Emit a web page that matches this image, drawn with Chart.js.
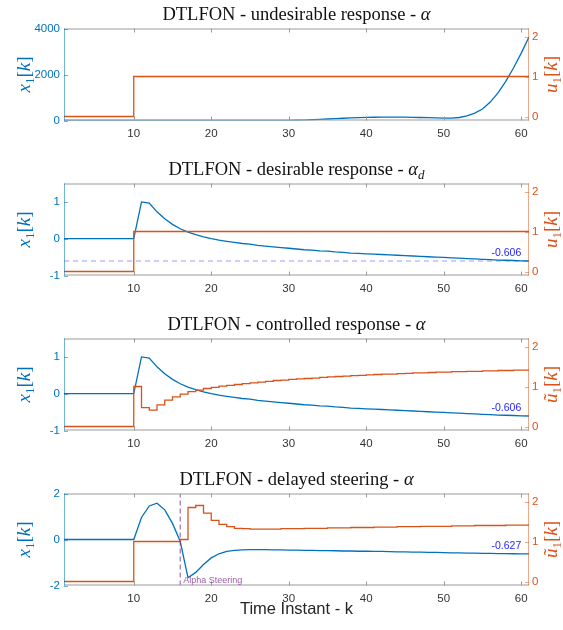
<!doctype html>
<html lang="en">
<head>
  <meta charset="utf-8">
  <title>DTLFON responses</title>
  <script src="https://cdn.jsdelivr.net/npm/chart.js@4.4.1/dist/chart.umd.min.js"></script>
  <style>
    html, body { margin: 0; padding: 0; background: #fff; }
    #wrap { position: relative; width: 563px; height: 630px; }
    #wrap canvas { position: absolute; left: 0; }
  </style>
</head>
<body>
  <div id="wrap">
    <canvas id="c1" width="563" height="155" style="top:0px"></canvas>
    <canvas id="c2" width="563" height="155" style="top:155px"></canvas>
    <canvas id="c3" width="563" height="155" style="top:310px"></canvas>
    <canvas id="c4" width="563" height="165" style="top:465px"></canvas>
  </div>

  <script type="text/javascript">

    // time instants k
    const k = [1, 2, 3, 4, 5, 6, 7, 8, 9, 10, 11, 12, 13, 14, 15, 16, 17, 18, 19, 20,
      21, 22, 23, 24, 25, 26, 27, 28, 29, 30, 31, 32, 33, 34, 35, 36, 37, 38, 39, 40,
      41, 42, 43, 44, 45, 46, 47, 48, 49, 50, 51, 52, 53, 54, 55, 56, 57, 58, 59, 60, 61];

    const xTicks = [10, 20, 30, 40, 50, 60];

    // panel 1 - undesirable response
    const x1Undesired = [0, 0, 0, 0, 0, 0, 0, 0, 0, 0, 0, 0, 0, 0, 0, 0, 0, 0, 0, 0,
      0, 0, 0, 0, 0, 0, 0, 0, 2, 5, 10, 20, 33, 48, 65, 82, 98, 112, 124, 134,
      142, 147, 149, 148, 145, 139, 131, 121, 111, 104, 106, 130, 200, 320, 500, 800, 1200, 1700, 2280, 2930, 3630];

    // input u1[k] for panels 1 and 2
    const uStep = [0, 0, 0, 0, 0, 0, 0, 0, 0, 1, 1, 1, 1, 1, 1, 1, 1, 1, 1, 1,
      1, 1, 1, 1, 1, 1, 1, 1, 1, 1, 1, 1, 1, 1, 1, 1, 1, 1, 1, 1,
      1, 1, 1, 1, 1, 1, 1, 1, 1, 1, 1, 1, 1, 1, 1, 1, 1, 1, 1, 1, 1];

    // panels 2 and 3 - desirable / controlled response
    const x1Desired = [0, 0, 0, 0, 0, 0, 0, 0, 0, 0, 1.00, 0.97, 0.73, 0.54, 0.39, 0.27, 0.18, 0.11, 0.05, 0.00,
      -0.04, -0.07, -0.10, -0.13, -0.15, -0.18, -0.20, -0.22, -0.24, -0.26, -0.28, -0.30, -0.31, -0.33, -0.34, -0.36, -0.37, -0.39, -0.40, -0.41,
      -0.42, -0.43, -0.44, -0.45, -0.46, -0.47, -0.48, -0.49, -0.50, -0.51, -0.52, -0.53, -0.54, -0.55, -0.56, -0.57, -0.58, -0.585, -0.593, -0.60, -0.606];

    const finalDesired = -0.606;
    const dashK = [1, 61];
    const dashY = [finalDesired, finalDesired];

    // panel 3 - controlled input
    const uControlled = [0, 0, 0, 0, 0, 0, 0, 0, 0, 1.00, 0.47, 0.41, 0.54, 0.66, 0.74, 0.81, 0.87, 0.91, 0.95, 0.98,
      1.01, 1.03, 1.05, 1.07, 1.09, 1.11, 1.13, 1.15, 1.16, 1.18, 1.19, 1.20, 1.21, 1.23, 1.24, 1.25, 1.26, 1.27, 1.28, 1.29,
      1.30, 1.31, 1.31, 1.32, 1.33, 1.34, 1.34, 1.35, 1.36, 1.36, 1.37, 1.37, 1.38, 1.38, 1.39, 1.39, 1.40, 1.40, 1.41, 1.41, 1.42];

    // panel 4 - delayed steering
    const x1Delayed = [0, 0, 0, 0, 0, 0, 0, 0, 0, 0, 0.96, 1.46, 1.58, 1.29, 0.70, -0.09, -1.66, -1.43, -1.09, -0.80,
      -0.62, -0.52, -0.47, -0.45, -0.44, -0.44, -0.44, -0.45, -0.45, -0.46, -0.46, -0.47, -0.47, -0.48, -0.48, -0.49, -0.50, -0.50, -0.51, -0.51,
      -0.52, -0.52, -0.53, -0.54, -0.54, -0.55, -0.55, -0.56, -0.56, -0.57, -0.58, -0.58, -0.59, -0.59, -0.60, -0.60, -0.61, -0.615, -0.62, -0.623, -0.627];

    const uDelayed = [0, 0, 0, 0, 0, 0, 0, 0, 0, 1, 1, 1, 1, 1, 1, 1.05, 1.85, 1.90, 1.71, 1.53,
      1.43, 1.37, 1.33, 1.32, 1.31, 1.31, 1.31, 1.31, 1.32, 1.32, 1.32, 1.33, 1.33, 1.33, 1.34, 1.34, 1.34, 1.35, 1.35, 1.35,
      1.36, 1.36, 1.36, 1.37, 1.37, 1.37, 1.38, 1.38, 1.38, 1.38, 1.39, 1.39, 1.39, 1.40, 1.40, 1.40, 1.40, 1.41, 1.41, 1.41, 1.41];

    const steerK = [16, 16];
    const steerY = [-2, 2];

    const BLUE = '#0072BD';
    const ORANGE = '#D95319';
    const SERIF = '"Liberation Serif", "Times New Roman", serif';
    const SANS = '"Liberation Sans", Arial, Helvetica, sans-serif';

    const PLOT_TOP = 28.5, PLOT_H = 92, PLOT_LEFT = 64, PLOT_RIGHT = 529;

    const pts = (xs, ys) => xs.map((x, i) => ({ x: x, y: ys[i] }));

    function drawParts(ctx, parts, x, y) {
      let w = 0;
      parts.forEach(p => { ctx.font = p.font; w += ctx.measureText(p.t).width; });
      let cx = x - w / 2;
      parts.forEach(p => {
        ctx.font = p.font;
        ctx.fillText(p.t, cx, y + (p.dy || 0));
        cx += ctx.measureText(p.t).width;
      });
    }

    const titleFont = '18.5px ' + SERIF;
    const titleIt = 'italic 18.5px ' + SERIF;
    const labFont = '19px ' + SERIF;
    const labIt = 'italic 19px ' + SERIF;
    const subFont = '13px ' + SERIF;

    function axisLabel(sym) {
      return [{ t: sym, font: labIt }, { t: '1', font: subFont, dy: 4 },
        { t: '[', font: labFont }, { t: 'k', font: labIt }, { t: ']', font: labFont }];
    }

    // frame, inward ticks, math texts and notes
    const framePlugin = {
      id: 'frame',
      afterDatasetsDraw(chart, args, o) {
        const { ctx, chartArea: a, scales } = chart;
        ctx.save();
        ctx.lineWidth = 1;
        const T = 4;

        ctx.strokeStyle = '#9a9a9a';
        ctx.beginPath();
        ctx.moveTo(a.left, a.top + 0.5); ctx.lineTo(a.right, a.top + 0.5);
        ctx.moveTo(a.left, a.bottom - 0.5); ctx.lineTo(a.right, a.bottom - 0.5);
        scales.x.ticks.forEach(t => {
          const px = Math.round(scales.x.getPixelForValue(t.value)) + 0.5;
          ctx.moveTo(px, a.top); ctx.lineTo(px, a.top + T);
          ctx.moveTo(px, a.bottom); ctx.lineTo(px, a.bottom - T);
        });
        ctx.stroke();

        ctx.strokeStyle = 'rgba(0,114,189,0.55)';
        ctx.beginPath();
        ctx.moveTo(a.left + 0.5, a.top); ctx.lineTo(a.left + 0.5, a.bottom);
        scales.y.ticks.forEach(t => {
          const py = Math.round(scales.y.getPixelForValue(t.value)) + 0.5;
          ctx.moveTo(a.left, py); ctx.lineTo(a.left + T, py);
        });
        ctx.stroke();

        ctx.strokeStyle = 'rgba(217,83,25,0.5)';
        ctx.beginPath();
        ctx.moveTo(a.right - 0.5, a.top); ctx.lineTo(a.right - 0.5, a.bottom);
        scales.y2.ticks.forEach(t => {
          const py = Math.round(scales.y2.getPixelForValue(t.value)) + 0.5;
          ctx.moveTo(a.right, py); ctx.lineTo(a.right - T, py);
        });
        ctx.stroke();

        // title
        ctx.fillStyle = '#111';
        ctx.textBaseline = 'alphabetic';
        drawParts(ctx, o.title, (a.left + a.right) / 2, 19.5);

        // y labels, rotated
        const cy = (a.top + a.bottom) / 2;
        ctx.save();
        ctx.translate(30, cy); ctx.rotate(-Math.PI / 2);
        ctx.fillStyle = BLUE;
        drawParts(ctx, axisLabel('x'), 0, 0);
        ctx.restore();
        ctx.save();
        ctx.translate(557, cy); ctx.rotate(-Math.PI / 2);
        ctx.fillStyle = ORANGE;
        drawParts(ctx, axisLabel(o.uSym), 0, 0);
        ctx.restore();

        // notes
        (o.notes || []).forEach(n => {
          const sc = scales[n.axis || 'y'];
          ctx.font = n.font;
          ctx.fillStyle = n.color;
          ctx.textAlign = n.align;
          const px = scales.x.getPixelForValue(n.x) + (n.dx || 0);
          const py = n.y === 'bottom' ? a.bottom + n.dy : sc.getPixelForValue(n.y) + n.dy;
          ctx.fillText(n.text, px, py);
        });
        ctx.textAlign = 'left';

        if (o.xTitle) {
          ctx.font = '16.5px ' + SANS;
          ctx.fillStyle = '#262626';
          ctx.textAlign = 'center';
          ctx.textBaseline = 'middle';
          ctx.fillText(o.xTitle, (a.left + a.right) / 2, 144);
        }
        ctx.restore();
      }
    };

    const plain = v => String(v);
    const tickFont = { family: SANS, size: 11.5 };

    function makePanel(id, cfg) {
      const canvas = document.getElementById(id);
      const H = canvas.height;
      return new Chart(canvas, {
        type: 'line',
        data: { datasets: cfg.datasets },
        options: {
          responsive: false,
          animation: false,
          events: [],
          layout: { padding: { top: PLOT_TOP, left: 0, right: 0, bottom: 0 } },
          elements: { point: { radius: 0 }, line: { borderWidth: 1.3, tension: 0 } },
          plugins: {
            legend: { display: false },
            tooltip: { enabled: false },
            frame: cfg.frame
          },
          scales: {
            x: {
              type: 'linear', min: 1, max: 61,
              grid: { display: false, drawTicks: false }, border: { display: false },
              afterBuildTicks: s => { s.ticks = xTicks.map(v => ({ value: v })); },
              afterFit: s => { s.height = H - PLOT_TOP - PLOT_H; },
              ticks: { color: '#333', padding: 6, font: tickFont, callback: plain }
            },
            y: {
              type: 'linear', position: 'left', min: cfg.yMin, max: cfg.yMax,
              grid: { display: false, drawTicks: false }, border: { display: false },
              afterBuildTicks: s => { s.ticks = cfg.yTicks.map(v => ({ value: v })); },
              afterFit: s => { s.width = PLOT_LEFT; },
              ticks: { color: BLUE, padding: 4, font: tickFont, callback: plain }
            },
            y2: {
              type: 'linear', position: 'right', min: -0.1, max: 2.2,
              grid: { display: false, drawTicks: false }, border: { display: false },
              afterBuildTicks: s => { s.ticks = [0, 1, 2].map(v => ({ value: v })); },
              afterFit: s => { s.width = 563 - PLOT_RIGHT; },
              ticks: { color: ORANGE, padding: 3, font: tickFont, callback: plain }
            }
          }
        },
        plugins: [framePlugin]
      });
    }

    const xLine = ys => ({ data: pts(k, ys), yAxisID: 'y', borderColor: BLUE, order: 2 });
    const uLine = ys => ({ data: pts(k, ys), yAxisID: 'y2', borderColor: ORANGE, stepped: 'before', order: 1 });
    const noteFont = '10.5px ' + SANS;

    document.addEventListener('DOMContentLoaded', () => {

      makePanel('c1', {
        yMin: 0, yMax: 4000, yTicks: [0, 2000, 4000],
        datasets: [xLine(x1Undesired), uLine(uStep)],
        frame: {
          uSym: 'u',
          title: [{ t: 'DTLFON - undesirable response - ', font: titleFont }, { t: 'α', font: titleIt }]
        }
      });

      makePanel('c2', {
        yMin: -1, yMax: 1.5, yTicks: [-1, 0, 1],
        datasets: [
          { data: pts(dashK, dashY), yAxisID: 'y', borderColor: 'rgba(60,70,255,0.35)', borderDash: [5, 4], borderWidth: 1.3, order: 3 },
          xLine(x1Desired), uLine(uStep)],
        frame: {
          uSym: 'u',
          title: [{ t: 'DTLFON - desirable response - ', font: titleFont }, { t: 'α', font: titleIt },
            { t: 'd', font: 'italic 13px ' + SERIF, dy: 4 }],
          notes: [{ text: '-0.606', x: 60, y: finalDesired, dy: -5, align: 'right', font: noteFont, color: '#1f1fff' }]
        }
      });

      makePanel('c3', {
        yMin: -1, yMax: 1.5, yTicks: [-1, 0, 1],
        datasets: [xLine(x1Desired), uLine(uControlled)],
        frame: {
          uSym: 'ũ',
          title: [{ t: 'DTLFON - controlled response - ', font: titleFont }, { t: 'α', font: titleIt }],
          notes: [{ text: '-0.606', x: 60, y: x1Desired[x1Desired.length - 1], dy: -5, align: 'right', font: noteFont, color: '#1f1fff' }]
        }
      });

      makePanel('c4', {
        yMin: -2, yMax: 2, yTicks: [-2, 0, 2],
        datasets: [
          { data: pts(steerK, steerY), yAxisID: 'y', borderColor: 'rgba(126,47,142,0.6)', borderDash: [5, 3], borderWidth: 1.4, order: 0 },
          xLine(x1Delayed), uLine(uDelayed)],
        frame: {
          uSym: 'ũ',
          title: [{ t: 'DTLFON - delayed steering - ', font: titleFont }, { t: 'α', font: titleIt }],
          notes: [
            { text: '-0.627', x: 60, y: x1Delayed[x1Delayed.length - 1], dy: -5, align: 'right', font: noteFont, color: '#1f1fff' },
            { text: 'Alpha Steering', x: 16, dx: 3, y: 'bottom', dy: -2.5, align: 'left', font: '9px ' + SANS, color: 'rgba(126,47,142,0.8)' }],
          xTitle: 'Time Instant - k'
        }
      });
    });

  </script>
</body>
</html>
